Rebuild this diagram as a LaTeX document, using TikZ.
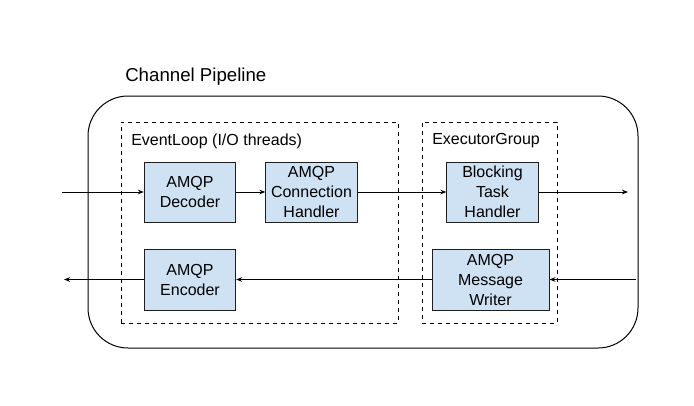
\documentclass[tikz,border=0pt]{standalone}
\usepackage{fontspec}
\setmainfont{Liberation Sans}
\usetikzlibrary{positioning,arrows.meta}
\definecolor{StageBlue}{RGB}{207,226,243}
\definecolor{EdgeGray}{RGB}{30,30,30}

\begin{document}
\begin{tikzpicture}[
    x=0.75pt,
    y=-0.75pt,
    font=\fontsize{12}{15}\selectfont,
    stage/.style={
        draw=EdgeGray,
        line width=0.75pt,
        fill=StageBlue,
        minimum width=68.5pt,
        minimum height=45pt,
        align=center,
        inner sep=1pt
    },
    group/.style={
        draw=black,
        dashed,
        line width=0.75pt,
        inner sep=0pt
    },
    caption/.style={
        anchor=west,
        inner sep=0pt
    },
    flow/.style={
        line width=0.75pt,
        -{Stealth[length=4.5pt,width=3.5pt]}
    }
]
\useasboundingbox (0,0) rectangle (694,405);

% pipeline and thread groups
\node[draw, line width=0.75pt, rounded corners=30pt, minimum width=412.5pt,
      minimum height=189pt, inner sep=0pt] (pipe) at (363,222) {};
\node[caption, font=\fontsize{14}{16}\selectfont] (pipelbl) at (125,77) {Channel Pipeline};

\node[group, minimum width=207.75pt, minimum height=150.75pt] (loop) at (259.5,222.5) {};
\node[caption] (looplbl) at (131,141) {EventLoop (I/O threads)};

\node[group, minimum width=101.25pt, minimum height=150.75pt] (exec) at (489.5,222.5) {};
\node[caption] (execlbl) at (432,141) {ExecutorGroup};

% handlers
\node[stage] (dec) at (190,192) {AMQP\\Decoder};
\node[stage] (conn) at (311.5,192) {AMQP\\Connection\\Handler};
\node[stage] (block) at (492.5,192) {Blocking\\Task\\Handler};

\node[stage, minimum height=45.75pt] (enc) at (190,279.5) {AMQP\\Encoder};
\node[stage, minimum width=87.75pt, minimum height=45.75pt] (writer) at (490.5,279.5) {AMQP\\Message\\Writer};

% free ends
\coordinate (in) at (62,192);
\coordinate (out) at (628,192);
\coordinate (back) at (636,279.5);
\coordinate (exit) at (64,279.5);

\draw[flow] (in) -- (dec);
\draw[flow] (dec) -- (conn);
\draw[flow] (conn) -- (block);
\draw[flow] (block) -- (out);

\draw[flow] (back) -- (writer);
\draw[flow] (writer) -- (enc);
\draw[flow] (enc) -- (exit);

\end{tikzpicture}
\end{document}
